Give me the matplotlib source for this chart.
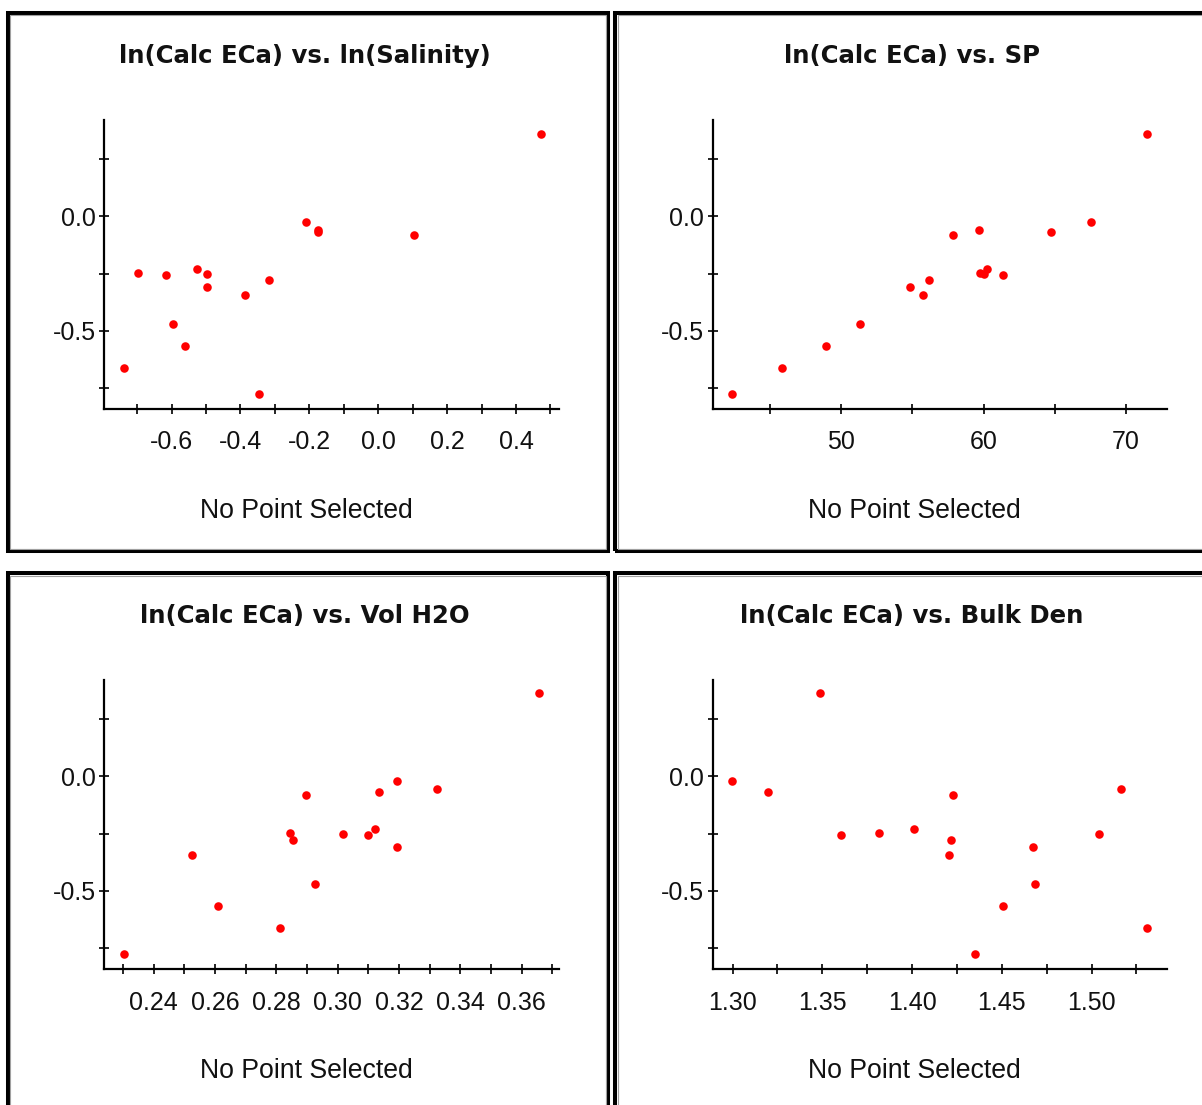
import matplotlib
matplotlib.use("Agg")
import matplotlib.pyplot as plt
from matplotlib.patches import Rectangle

# ---- data ----
ln_calc_eca = [0.362, -0.022, -0.057, -0.067, -0.083, -0.231, -0.249, -0.252,
               -0.258, -0.277, -0.309, -0.345, -0.469, -0.566, -0.661, -0.777]
ln_salinity = [0.474, -0.210, -0.176, -0.174, 0.105, -0.527, -0.698, -0.498,
               -0.615, -0.317, -0.498, -0.387, -0.597, -0.561, -0.739, -0.347]
sp = [71.51, 67.57, 59.65, 64.76, 57.84, 60.24, 59.78, 60.05,
      61.35, 56.14, 54.86, 55.73, 51.32, 48.95, 45.84, 42.30]
vol_h2o = [0.3658, 0.3193, 0.3324, 0.3134, 0.2898, 0.3122, 0.2845, 0.3017,
           0.3100, 0.2854, 0.3193, 0.2525, 0.2925, 0.2611, 0.2813, 0.2303]
bulk_den = [1.3488, 1.2998, 1.5165, 1.3197, 1.4227, 1.4013, 1.3816, 1.5041,
            1.3602, 1.4214, 1.4672, 1.4203, 1.4683, 1.4505, 1.5310, 1.4349]

titles = ["ln(Calc ECa) vs. ln(Salinity)", "ln(Calc ECa) vs. SP",
          "ln(Calc ECa) vs. Vol H2O", "ln(Calc ECa) vs. Bulk Den"]
status_text = "No Point Selected"

y_ticks = [-0.75, -0.5, -0.25, 0.0, 0.25]
y_ticklabels = ["", "-0.5", "", "0.0", ""]

x_ticks_1 = [-0.7, -0.6, -0.5, -0.4, -0.3, -0.2, -0.1, 0.0, 0.1, 0.2, 0.3, 0.4, 0.5]
x_labels_1 = ["", "-0.6", "", "-0.4", "", "-0.2", "", "0.0", "", "0.2", "", "0.4", ""]
x_ticks_2 = [45, 50, 55, 60, 65, 70]
x_labels_2 = ["", "50", "", "60", "", "70"]
x_ticks_3 = [0.23, 0.24, 0.25, 0.26, 0.27, 0.28, 0.29, 0.30, 0.31, 0.32, 0.33,
             0.34, 0.35, 0.36, 0.37]
x_labels_3 = ["", "0.24", "", "0.26", "", "0.28", "", "0.30", "", "0.32", "",
              "0.34", "", "0.36", ""]
x_ticks_4 = [1.300, 1.325, 1.350, 1.375, 1.400, 1.425, 1.450, 1.475, 1.500, 1.525]
x_labels_4 = ["1.30", "", "1.35", "", "1.40", "", "1.45", "", "1.50", ""]

# ---- figure ----
W, H = 1202, 1105
fig = plt.figure(figsize=(W / 100, H / 100), dpi=100)
fig.patch.set_facecolor("white")

TICK_FONT = ["Liberation Sans Narrow", "Liberation Sans", "DejaVu Sans"]
TEXT_FONT = ["Liberation Sans", "DejaVu Sans"]
TITLE_FONT = ["DejaVu Sans"]

def fx(x):
    return x / W

def fy(y):
    return 1 - y / H

def frame(x0, y0, x1, y1):
    # outer black border (4 px) with a thin grey inner line
    fig.patches.append(Rectangle((fx(x0 + 2), fy(y1 - 2)), (x1 - x0 - 4) / W,
                                 (y1 - y0 - 4) / H, transform=fig.transFigure,
                                 fill=False, edgecolor="black", linewidth=2.9))
    fig.patches.append(Rectangle((fx(x0 + 4.5), fy(y1 - 4.5)), (x1 - x0 - 9) / W,
                                 (y1 - y0 - 9) / H, transform=fig.transFigure,
                                 fill=False, edgecolor="#a0a0a0", linewidth=0.8))

panels = [
    # frame box, axes box (l, t, r, b), x data, xlim, ticks, labels, title pos, status pos
    ((6, 11, 610, 553), (104.4, 120, 559, 409), ln_salinity, (-0.795, 0.525),
     x_ticks_1, x_labels_1, (305, 56), (306, 511)),
    ((613, 11, 1212, 553), (712.7, 120, 1167, 409), sp, (40.95, 72.9),
     x_ticks_2, x_labels_2, (912, 56), (914, 511)),
    ((6, 571, 610, 1115), (104.4, 679.5, 559, 969.4), vol_h2o, (0.2239, 0.3722),
     x_ticks_3, x_labels_3, (305, 616), (306, 1071)),
    ((613, 571, 1212, 1115), (712.7, 679.5, 1167, 969.4), bulk_den, (1.2889, 1.542),
     x_ticks_4, x_labels_4, (912, 616), (914, 1071)),
]

for i, (fr, box, xdata, xlim, xt, xl, tpos, spos) in enumerate(panels):
    frame(*fr)
    l, t, r, b = box
    ax = fig.add_axes([fx(l), fy(b), (r - l) / W, (b - t) / H])
    ax.scatter(xdata, ln_calc_eca, s=38, color="#ff0000", linewidths=0, zorder=3,
               clip_on=False)
    ax.set_xlim(*xlim)
    ax.set_ylim(-0.842, 0.422)
    ax.set_xticks(xt)
    ax.set_xticklabels(xl)
    ax.set_yticks(y_ticks)
    ax.set_yticklabels(y_ticklabels)
    for side in ("top", "right"):
        ax.spines[side].set_visible(False)
    for side in ("left", "bottom"):
        ax.spines[side].set_linewidth(1.6)
        ax.spines[side].set_color("black")
    ax.tick_params(axis="both", direction="inout", length=6.5, width=1.2,
                   colors="black", labelcolor="#111111", labelsize=18)
    ax.tick_params(axis="x", pad=12)
    ax.tick_params(axis="y", pad=3)
    for lab in ax.get_xticklabels() + ax.get_yticklabels():
        lab.set_family(TICK_FONT)
    ax.set_facecolor("white")

    fig.text(fx(tpos[0]), fy(tpos[1]), titles[i], ha="center", va="center",
             fontsize=17.6, fontweight="bold", family=TITLE_FONT, color="#111111")
    fig.text(fx(spos[0]), fy(spos[1]), status_text, ha="center", va="center",
             fontsize=19.2, family=TEXT_FONT, color="#111111")

fig.savefig("out.png", dpi=100, facecolor="white")
